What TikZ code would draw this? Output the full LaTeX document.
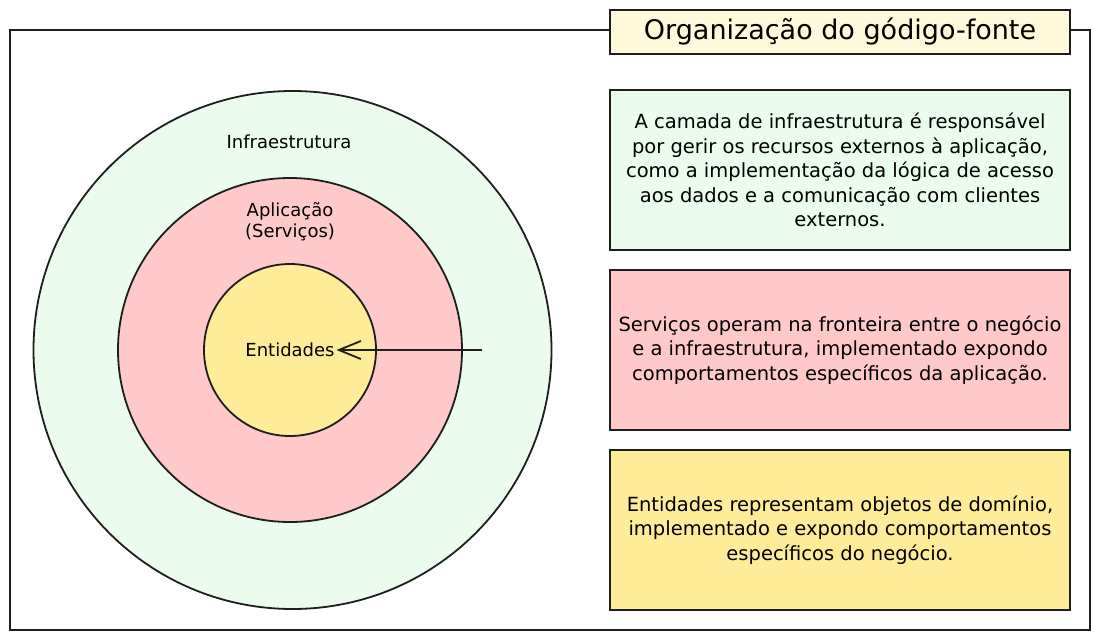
\documentclass[tikz,border=0pt]{standalone}
\usepackage{fontspec}
\setmainfont{DejaVu Sans}
\usetikzlibrary{arrows.meta,positioning}
\definecolor{infra}{HTML}{EBFBEE}
\definecolor{aplic}{HTML}{FFC9C9}
\definecolor{entid}{HTML}{FFEC99}
\definecolor{titulo}{HTML}{FFF9DB}
\definecolor{traco}{HTML}{1E1E1E}

\begin{document}
\begin{tikzpicture}[x=1pt,y=-1pt,>={Straight Barb[length=22pt,width=18pt]},line width=1.8pt,
  camada/.style={circle,draw=traco,inner sep=0pt},
  caixa/.style={draw=traco,outer sep=0pt,inner xsep=3pt,minimum width=460pt,minimum height=160pt,
    align=center,font=\fontsize{19.5}{24.5}\selectfont},
  rotulo/.style={align=center,font=\fontsize{18}{21}\selectfont}]
  \useasboundingbox (0,0) rectangle (1100,640);
  \draw[traco] (10,30) rectangle (1090,630);
  \node[draw=traco,fill=titulo,minimum width=460pt,minimum height=44pt,
    font=\fontsize{27}{30}\selectfont] (titulo) at (840,32) {Organização do gódigo-fonte};
  % camadas
  \node[camada,fill=infra,minimum size=518pt] (infra) at (292.5,350) {};
  \node[camada,fill=aplic,minimum size=344pt] (aplic) at (290,350) {};
  \node[camada,fill=entid,minimum size=172pt] (entid) at (290,350) {};
  \node[rotulo] (lbinfra) at (289,142) {Infraestrutura};
  \node[rotulo] (lbaplic) at (290,222) {Aplicação\\(Serviços)};
  \node[rotulo,inner xsep=1pt] (lbentid) at (290,350) {Entidades};
  \coordinate (seta) at (482,350);
  \draw[->,traco] (seta) -- (lbentid.east);
  % textos
  \node[caixa,fill=infra] (txinfra) at (840,170)
    {A camada de infraestrutura é responsável\\por gerir os recursos externos à aplicação,\\como a implementação da lógica de acesso\\aos dados e a comunicação com clientes\\externos.};
  \node[caixa,fill=aplic,below=20pt of txinfra] (txaplic)
    {Serviços operam na fronteira entre o negócio\\e a infraestrutura, implementado expondo\\comportamentos específicos da aplicação.};
  \node[caixa,fill=entid,below=20pt of txaplic] (txentid)
    {Entidades representam objetos de domínio,\\implementado e expondo comportamentos\\específicos do negócio.};
\end{tikzpicture}
\end{document}
